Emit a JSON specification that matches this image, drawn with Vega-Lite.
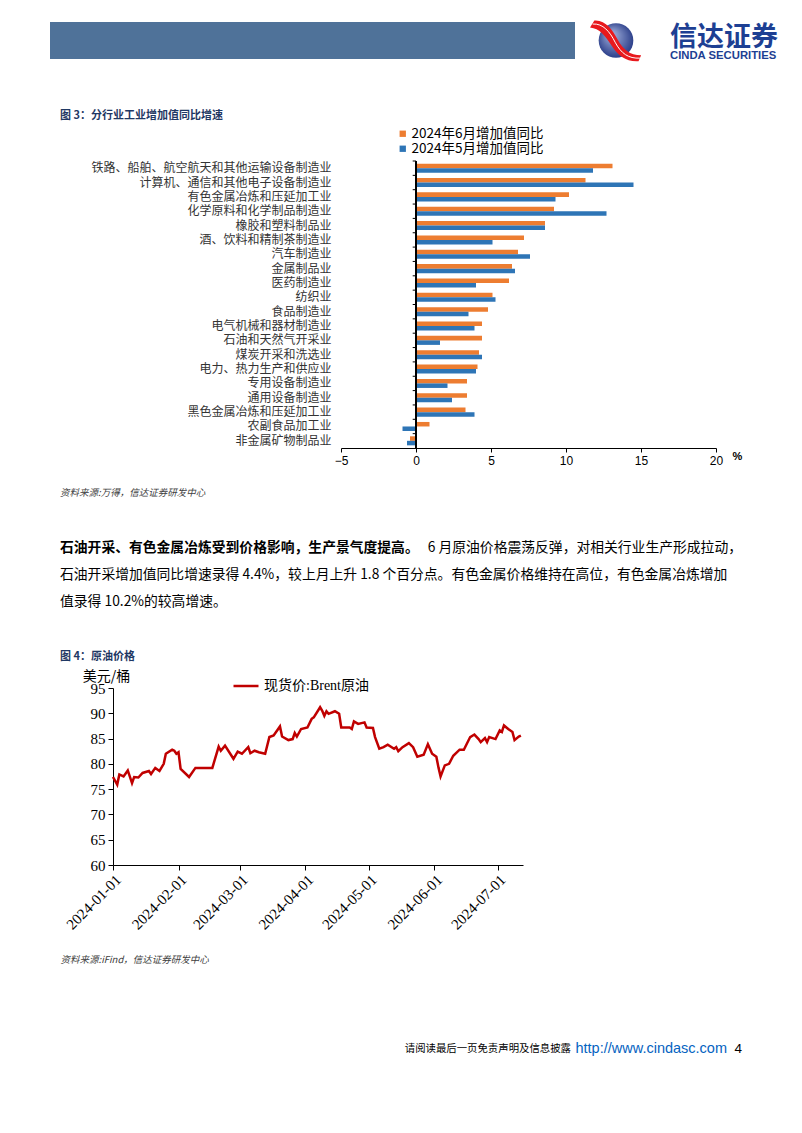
{
  "$schema": "https://vega.github.io/schema/vega-lite/v6.json",
  "background": "white",
  "padding": {"left": 50, "top": 20, "right": 0, "bottom": 0},
  "config": {"view": {"stroke": null}, "font": "Noto Sans CJK SC"},
  "columns": 1,
  "spacing": 48,
  "resolve": {"scale": {"color": "independent"}, "legend": {"color": "independent"}},
  "concat": [
    {
      "spacing": 15,
      "hconcat": [
        {
          "width": 525, "height": 37,
          "view": {"fill": "#4F7299", "stroke": null},
          "data": {"values": [{"t": ""}]},
          "mark": {"type": "text"},
          "encoding": {"text": {"field": "t"}}
        },
        {
          "width": 190, "height": 37,
          "data": {"values": [{"name": "信达证券", "en": "CINDA SECURITIES"}]},
          "layer": [
            {"mark": {"type": "point", "shape": "circle", "filled": true, "size": 1200, "opacity": 1, "xOffset": -72,
              "color": {"gradient": "radial", "x1": 0.35, "y1": 0.3, "x2": 0.5, "y2": 0.5, "r1": 0, "r2": 0.6,
                "stops": [{"offset": 0, "color": "#aab8e2"}, {"offset": 1, "color": "#1b2f7e"}]}}, "encoding": {}},
            {"mark": {"type": "point", "filled": true, "size": 1200, "opacity": 1, "xOffset": -72, "color": "#E8191D",
              "shape": "M -1.25 -1.15 C -0.6 -1.2 -0.2 -0.6 0.1 -0.05 C 0.4 0.5 0.8 0.85 1.45 0.85 L 1.3 1.2 C 0.6 1.25 0.1 0.85 -0.25 0.3 C -0.6 -0.25 -0.95 -0.7 -1.5 -0.75 Z"}, "encoding": {}},
            {"mark": {"type": "point", "filled": false, "size": 1200, "opacity": 1, "xOffset": -72, "color": "white", "strokeWidth": 1,
              "shape": "M -1.35 -0.95 C -0.75 -1.0 -0.35 -0.5 -0.05 0.1 C 0.3 0.75 0.7 1.05 1.4 1.02"}, "encoding": {}},
            {"mark": {"type": "text", "align": "left", "baseline": "middle", "dx": -18, "dy": -3, "font": "Noto Sans CJK SC", "fontWeight": "bold", "fontSize": 27, "color": "#1D3F93"},
              "encoding": {"text": {"field": "name"}}},
            {"mark": {"type": "text", "align": "left", "baseline": "middle", "dx": -18, "dy": 15, "font": "Liberation Sans", "fontWeight": "bold", "fontSize": 11.3, "color": "#1D3F93"},
              "encoding": {"text": {"field": "en"}}}
          ]
        }
      ]
    },
    {
      "columns": 1,
      "spacing": 21,
      "resolve": {"scale": {"color": "independent"}, "legend": {"color": "independent"}},
      "concat": [
        {
          "spacing": 9,
          "resolve": {"scale": {"color": "independent"}, "legend": {"color": "independent"}},
          "hconcat": [
            {"width": 1, "height": 1, "data": {"values": [{"t": ""}]}, "mark": {"type": "text"}, "encoding": {"text": {"field": "t"}}},
            {
              "width": 375, "height": 287,
              "title": {"text": "图 3：分行业工业增加值同比增速", "anchor": "start", "frame": "group", "dx": -281, "offset": 6,
                "font": "Noto Sans CJK SC", "fontSize": 11, "fontWeight": "bold", "color": "#1F3864"},
              "data": {"values": [
                {"cat": "铁路、船舶、航空航天和其他运输设备制造业", "series": "2024年6月增加值同比", "value": 13.1},
                {"cat": "铁路、船舶、航空航天和其他运输设备制造业", "series": "2024年5月增加值同比", "value": 11.8},
                {"cat": "计算机、通信和其他电子设备制造业", "series": "2024年6月增加值同比", "value": 11.3},
                {"cat": "计算机、通信和其他电子设备制造业", "series": "2024年5月增加值同比", "value": 14.5},
                {"cat": "有色金属冶炼和压延加工业", "series": "2024年6月增加值同比", "value": 10.2},
                {"cat": "有色金属冶炼和压延加工业", "series": "2024年5月增加值同比", "value": 9.3},
                {"cat": "化学原料和化学制品制造业", "series": "2024年6月增加值同比", "value": 9.2},
                {"cat": "化学原料和化学制品制造业", "series": "2024年5月增加值同比", "value": 12.7},
                {"cat": "橡胶和塑料制品业", "series": "2024年6月增加值同比", "value": 8.6},
                {"cat": "橡胶和塑料制品业", "series": "2024年5月增加值同比", "value": 8.6},
                {"cat": "酒、饮料和精制茶制造业", "series": "2024年6月增加值同比", "value": 7.2},
                {"cat": "酒、饮料和精制茶制造业", "series": "2024年5月增加值同比", "value": 5.1},
                {"cat": "汽车制造业", "series": "2024年6月增加值同比", "value": 6.8},
                {"cat": "汽车制造业", "series": "2024年5月增加值同比", "value": 7.6},
                {"cat": "金属制品业", "series": "2024年6月增加值同比", "value": 6.4},
                {"cat": "金属制品业", "series": "2024年5月增加值同比", "value": 6.6},
                {"cat": "医药制造业", "series": "2024年6月增加值同比", "value": 6.2},
                {"cat": "医药制造业", "series": "2024年5月增加值同比", "value": 4.0},
                {"cat": "纺织业", "series": "2024年6月增加值同比", "value": 5.1},
                {"cat": "纺织业", "series": "2024年5月增加值同比", "value": 5.3},
                {"cat": "食品制造业", "series": "2024年6月增加值同比", "value": 4.8},
                {"cat": "食品制造业", "series": "2024年5月增加值同比", "value": 3.5},
                {"cat": "电气机械和器材制造业", "series": "2024年6月增加值同比", "value": 4.4},
                {"cat": "电气机械和器材制造业", "series": "2024年5月增加值同比", "value": 3.9},
                {"cat": "石油和天然气开采业", "series": "2024年6月增加值同比", "value": 4.4},
                {"cat": "石油和天然气开采业", "series": "2024年5月增加值同比", "value": 1.6},
                {"cat": "煤炭开采和洗选业", "series": "2024年6月增加值同比", "value": 4.2},
                {"cat": "煤炭开采和洗选业", "series": "2024年5月增加值同比", "value": 4.4},
                {"cat": "电力、热力生产和供应业", "series": "2024年6月增加值同比", "value": 4.1},
                {"cat": "电力、热力生产和供应业", "series": "2024年5月增加值同比", "value": 4.0},
                {"cat": "专用设备制造业", "series": "2024年6月增加值同比", "value": 3.4},
                {"cat": "专用设备制造业", "series": "2024年5月增加值同比", "value": 2.1},
                {"cat": "通用设备制造业", "series": "2024年6月增加值同比", "value": 3.4},
                {"cat": "通用设备制造业", "series": "2024年5月增加值同比", "value": 2.4},
                {"cat": "黑色金属冶炼和压延加工业", "series": "2024年6月增加值同比", "value": 3.3},
                {"cat": "黑色金属冶炼和压延加工业", "series": "2024年5月增加值同比", "value": 3.9},
                {"cat": "农副食品加工业", "series": "2024年6月增加值同比", "value": 0.9},
                {"cat": "农副食品加工业", "series": "2024年5月增加值同比", "value": -0.9},
                {"cat": "非金属矿物制品业", "series": "2024年6月增加值同比", "value": -0.4},
                {"cat": "非金属矿物制品业", "series": "2024年5月增加值同比", "value": -0.6}
              ]},
              "layer": [
                {
                  "mark": {"type": "bar"},
                  "encoding": {
                    "y": {"field": "cat", "type": "nominal", "sort": null, "scale": {"paddingInner": 0, "paddingOuter": 0},
                      "axis": {"title": null, "domain": false, "ticks": false, "labelPadding": 10, "labelFont": "Noto Sans CJK SC", "labelFontSize": 12, "labelColor": "#333333", "labelLimit": 400}},
                    "yOffset": {"field": "series", "type": "nominal", "sort": null, "scale": {"paddingInner": 0, "paddingOuter": 0.59}},
                    "x": {"field": "value", "type": "quantitative", "scale": {"domain": [-5, 20], "nice": false, "zero": false},
                      "axis": {"title": "%", "values": [-5, 0, 5, 10, 15, 20], "grid": false, "domainColor": "#000000", "tickColor": "#000000", "tickSize": 4,
                        "labelFont": "Liberation Sans", "labelFontSize": 12, "labelColor": "#000000", "labelPadding": 3, "labelFlush": false,
                        "titleX": 396, "titleY": 8, "titleAlign": "center", "titleBaseline": "middle", "titleFont": "Liberation Sans", "titleFontSize": 11, "titleFontWeight": "bold", "titleColor": "#000000"}},
                    "color": {"field": "series", "type": "nominal", "sort": null,
                      "scale": {"domain": ["2024年6月增加值同比", "2024年5月增加值同比"], "range": ["#ED7D31", "#2E75B6"]},
                      "legend": {"orient": "none", "legendX": 55, "legendY": -34, "title": null, "direction": "vertical", "symbolType": "square", "symbolSize": 40,
                        "labelFont": "Noto Sans CJK SC", "labelFontSize": 13.5, "labelColor": "#000000", "rowPadding": 0, "labelOffset": 2}}
                  }
                },
                {"mark": {"type": "rule", "color": "#000000", "strokeWidth": 1}, "encoding": {"x": {"datum": 0}}},
                {
                  "transform": [{"filter": "datum.series === '2024年6月增加值同比'"}],
                  "mark": {"type": "rule", "color": "#000000", "strokeWidth": 1},
                  "encoding": {"y": {"field": "cat", "type": "nominal", "sort": null, "bandPosition": 0}, "x": {"datum": -0.22}, "x2": {"datum": 0}}
                }
              ]
            }
          ]
        },
        {
          "columns": 1,
          "spacing": 36,
          "resolve": {"scale": {"color": "independent"}, "legend": {"color": "independent"}},
          "concat": [
            {
              "width": 692, "height": 81,
              "title": {"text": "资料来源:万得，信达证券研发中心", "anchor": "start", "frame": "group", "dx": 10, "offset": 37,
                "font": "Noto Sans CJK SC", "fontSize": 9.5, "fontStyle": "italic", "fontWeight": "normal", "color": "#404040"},
              "data": {"values": [
                {"line": "1", "part": "bold", "text": "石油开采、有色金属冶炼受到价格影响，生产景气度提高。"},
                {"line": "1", "part": "right", "text": "6 月原油价格震荡反弹，对相关行业生产形成拉动，"},
                {"line": "2", "part": "left", "text": "石油开采增加值同比增速录得 4.4%，较上月上升 1.8 个百分点。有色金属价格维持在高位，有色金属冶炼增加"},
                {"line": "3", "part": "left", "text": "值录得 10.2%的较高增速。"}
              ]},
              "encoding": {
                "y": {"field": "line", "type": "ordinal", "axis": null, "scale": {"type": "point", "padding": 0.5}},
                "text": {"field": "text"}
              },
              "layer": [
                {"transform": [{"filter": "datum.part === 'bold'"}],
                  "mark": {"type": "text", "align": "left", "baseline": "middle", "dx": 10, "font": "Noto Sans CJK SC", "fontSize": 13.8, "fontWeight": "bold", "color": "#000000"},
                  "encoding": {"x": {"datum": 0, "scale": {"domain": [0, 1]}, "axis": null}}},
                {"transform": [{"filter": "datum.part === 'left'"}],
                  "mark": {"type": "text", "align": "left", "baseline": "middle", "dx": 10, "font": "Noto Sans CJK SC", "fontSize": 13.8, "fontWeight": "normal", "color": "#000000"},
                  "encoding": {"x": {"datum": 0, "scale": {"domain": [0, 1]}, "axis": null}}},
                {"transform": [{"filter": "datum.part === 'right'"}],
                  "mark": {"type": "text", "align": "right", "baseline": "middle", "font": "Noto Sans CJK SC", "fontSize": 13.8, "fontWeight": "normal", "color": "#000000"},
                  "encoding": {"x": {"datum": 1, "scale": {"domain": [0, 1]}, "axis": null}}}
              ]
            },
            {
              "columns": 1,
              "spacing": 77,
              "resolve": {"scale": {"color": "independent"}, "legend": {"color": "independent"}},
              "concat": [
                {
                  "spacing": 9,
                  "resolve": {"scale": {"color": "independent"}, "legend": {"color": "independent"}},
                  "hconcat": [
                    {"width": 1, "height": 1, "data": {"values": [{"t": ""}]}, "mark": {"type": "text"}, "encoding": {"text": {"field": "t"}}},
                    {
                      "width": 410, "height": 177,
                      "title": {"text": "图 4：原油价格", "anchor": "start", "frame": "group", "dx": -53, "offset": 7,
                        "font": "Noto Sans CJK SC", "fontSize": 11, "fontWeight": "bold", "color": "#1F3864"},
                      "data": {"values": [
                        {"date": "2024-01-01", "price": 77.4}, {"date": "2024-01-03", "price": 75.9}, {"date": "2024-01-04", "price": 77.9},
                        {"date": "2024-01-06", "price": 77.5}, {"date": "2024-01-08", "price": 78.7}, {"date": "2024-01-10", "price": 76.2},
                        {"date": "2024-01-11", "price": 77.4}, {"date": "2024-01-13", "price": 77.3}, {"date": "2024-01-15", "price": 78.2},
                        {"date": "2024-01-18", "price": 78.6}, {"date": "2024-01-19", "price": 78.0}, {"date": "2024-01-21", "price": 79.2},
                        {"date": "2024-01-23", "price": 78.6}, {"date": "2024-01-25", "price": 80.0}, {"date": "2024-01-26", "price": 82.0},
                        {"date": "2024-01-29", "price": 82.8}, {"date": "2024-01-30", "price": 82.6}, {"date": "2024-01-31", "price": 82.0},
                        {"date": "2024-02-01", "price": 82.3}, {"date": "2024-02-02", "price": 79.0}, {"date": "2024-02-06", "price": 77.4},
                        {"date": "2024-02-09", "price": 79.2}, {"date": "2024-02-17", "price": 79.2}, {"date": "2024-02-20", "price": 83.4},
                        {"date": "2024-02-21", "price": 82.6}, {"date": "2024-02-23", "price": 83.6}, {"date": "2024-02-27", "price": 81.0},
                        {"date": "2024-02-29", "price": 82.4}, {"date": "2024-03-02", "price": 82.0}, {"date": "2024-03-05", "price": 83.3},
                        {"date": "2024-03-06", "price": 82.1}, {"date": "2024-03-08", "price": 82.6}, {"date": "2024-03-10", "price": 82.3},
                        {"date": "2024-03-13", "price": 82.0}, {"date": "2024-03-15", "price": 85.3}, {"date": "2024-03-17", "price": 85.6},
                        {"date": "2024-03-20", "price": 87.4}, {"date": "2024-03-21", "price": 85.4}, {"date": "2024-03-24", "price": 84.7},
                        {"date": "2024-03-26", "price": 84.9}, {"date": "2024-03-27", "price": 86.1}, {"date": "2024-03-28", "price": 85.4},
                        {"date": "2024-03-30", "price": 86.9}, {"date": "2024-04-02", "price": 87.2}, {"date": "2024-04-04", "price": 88.9},
                        {"date": "2024-04-05", "price": 89.2}, {"date": "2024-04-08", "price": 91.2}, {"date": "2024-04-09", "price": 90.5},
                        {"date": "2024-04-10", "price": 89.5}, {"date": "2024-04-11", "price": 90.4}, {"date": "2024-04-12", "price": 89.9},
                        {"date": "2024-04-15", "price": 90.4}, {"date": "2024-04-17", "price": 89.9}, {"date": "2024-04-18", "price": 87.2},
                        {"date": "2024-04-22", "price": 87.2}, {"date": "2024-04-23", "price": 86.9}, {"date": "2024-04-24", "price": 88.4},
                        {"date": "2024-04-26", "price": 87.9}, {"date": "2024-04-29", "price": 88.2}, {"date": "2024-04-30", "price": 87.2},
                        {"date": "2024-05-03", "price": 87.1}, {"date": "2024-05-04", "price": 85.3}, {"date": "2024-05-06", "price": 83.0},
                        {"date": "2024-05-08", "price": 83.3}, {"date": "2024-05-10", "price": 83.8}, {"date": "2024-05-13", "price": 83.0},
                        {"date": "2024-05-14", "price": 83.3}, {"date": "2024-05-15", "price": 82.5}, {"date": "2024-05-17", "price": 83.3},
                        {"date": "2024-05-20", "price": 84.1}, {"date": "2024-05-22", "price": 83.3}, {"date": "2024-05-24", "price": 81.4},
                        {"date": "2024-05-27", "price": 81.8}, {"date": "2024-05-29", "price": 83.9}, {"date": "2024-05-31", "price": 82.0},
                        {"date": "2024-06-02", "price": 81.4}, {"date": "2024-06-03", "price": 79.3}, {"date": "2024-06-04", "price": 77.5},
                        {"date": "2024-06-06", "price": 79.7}, {"date": "2024-06-08", "price": 80.0}, {"date": "2024-06-10", "price": 81.6},
                        {"date": "2024-06-13", "price": 82.8}, {"date": "2024-06-15", "price": 82.8}, {"date": "2024-06-18", "price": 85.3},
                        {"date": "2024-06-20", "price": 85.8}, {"date": "2024-06-22", "price": 84.9}, {"date": "2024-06-23", "price": 84.3},
                        {"date": "2024-06-25", "price": 85.1}, {"date": "2024-06-26", "price": 84.3}, {"date": "2024-06-27", "price": 85.3},
                        {"date": "2024-06-30", "price": 84.9}, {"date": "2024-07-02", "price": 86.6}, {"date": "2024-07-03", "price": 86.3},
                        {"date": "2024-07-04", "price": 87.6}, {"date": "2024-07-06", "price": 86.9}, {"date": "2024-07-08", "price": 86.3},
                        {"date": "2024-07-09", "price": 84.7}, {"date": "2024-07-11", "price": 85.4}, {"date": "2024-07-12", "price": 85.6}
                      ]},
                      "mark": {"type": "line", "strokeWidth": 2.5, "interpolate": "linear"},
                      "encoding": {
                        "x": {"field": "date", "type": "temporal",
                          "scale": {"type": "utc", "nice": false, "domain": [{"year": 2024, "month": 1, "date": 1, "utc": true}, {"year": 2024, "month": 7, "date": 13, "utc": true}]},
                          "axis": {"title": "资料来源:iFind，信达证券研发中心", "format": "%Y-%m-%d",
                            "values": [{"year": 2024, "month": 1, "date": 1, "utc": true}, {"year": 2024, "month": 2, "date": 1, "utc": true}, {"year": 2024, "month": 3, "date": 1, "utc": true}, {"year": 2024, "month": 4, "date": 1, "utc": true}, {"year": 2024, "month": 5, "date": 1, "utc": true}, {"year": 2024, "month": 6, "date": 1, "utc": true}, {"year": 2024, "month": 7, "date": 1, "utc": true}],
                            "labelAngle": -45, "labelFont": "Liberation Serif", "labelFontSize": 15, "labelColor": "#000000", "labelPadding": 2, "labelFlush": false, "labelOverlap": false,
                            "grid": false, "domainColor": "#000000", "tickColor": "#000000", "tickSize": 5,
                            "titleX": -53, "titleY": 94, "titleAlign": "left", "titleBaseline": "middle", "titleFont": "Noto Sans CJK SC", "titleFontSize": 9.5, "titleFontStyle": "italic", "titleFontWeight": "normal", "titleColor": "#404040"}},
                        "y": {"field": "price", "type": "quantitative", "scale": {"domain": [60, 95], "nice": false, "zero": false},
                          "axis": {"title": "美元/桶", "values": [60, 65, 70, 75, 80, 85, 90, 95], "grid": false, "domainColor": "#000000", "tickColor": "#000000", "tickSize": 5,
                            "labelFont": "Liberation Serif", "labelFontSize": 15, "labelColor": "#000000", "labelPadding": 3, "labelFlush": false,
                            "titleAngle": 0, "titleX": -7, "titleY": -12, "titleAlign": "center", "titleBaseline": "middle", "titleFont": "Noto Sans CJK SC", "titleFontSize": 14, "titleFontWeight": "normal", "titleColor": "#000000"}},
                        "color": {"datum": "现货价:Brent原油", "scale": {"range": ["#C00000"]},
                          "legend": {"orient": "none", "legendX": 119, "legendY": -16, "title": null, "symbolType": "stroke", "symbolSize": 625, "symbolStrokeWidth": 2.5,
                            "labelFont": "Liberation Serif, Noto Sans CJK SC", "labelFontSize": 14, "labelColor": "#000000", "labelOffset": 4}}
                      }
                    }
                  ]
                },
                {
                  "width": 692, "height": 14,
                  "data": {"values": [{"a": "请阅读最后一页免责声明及信息披露", "b": "http://www.cindasc.com", "c": "4"}]},
                  "layer": [
                    {"mark": {"type": "text", "align": "right", "baseline": "middle", "font": "Liberation Sans", "fontSize": 13.5, "color": "#000000"},
                      "encoding": {"x": {"datum": 1, "scale": {"domain": [0, 1]}, "axis": null}, "text": {"field": "c"}}},
                    {"mark": {"type": "text", "align": "right", "baseline": "middle", "dx": -15, "font": "Liberation Sans", "fontSize": 14.5, "color": "#0563C1"},
                      "encoding": {"x": {"datum": 1, "scale": {"domain": [0, 1]}, "axis": null}, "text": {"field": "b"}}},
                    {"mark": {"type": "text", "align": "right", "baseline": "middle", "dx": -171, "font": "Noto Sans CJK SC", "fontSize": 10.4, "color": "#000000"},
                      "encoding": {"x": {"datum": 1, "scale": {"domain": [0, 1]}, "axis": null}, "text": {"field": "a"}}}
                  ]
                }
              ]
            }
          ]
        }
      ]
    }
  ]
}
